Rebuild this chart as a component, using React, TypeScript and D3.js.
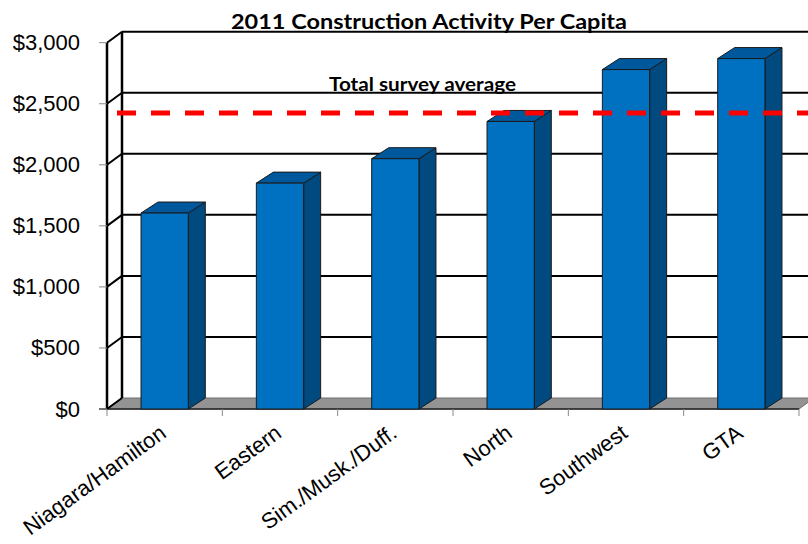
import React from "react";
import * as d3 from "d3";

const categories = ["Niagara/Hamilton", "Eastern", "Sim./Musk./Duff.", "North", "Southwest", "GTA"];
const values = [1605, 1850, 2050, 2355, 2780, 2870];
const yTicks = [0, 500, 1000, 1500, 2000, 2500, 3000];
const surveyAverage = 2425;
const title = "2011 Construction Activity Per Capita";
const averageLabel = "Total survey average";

const W = 808;
const H = 544;
const left = 107;
const right = 799;
const bottom = 409;
const top = 42.7;
const wallDx = 15;
const wallDy = -11;
const barDx = 17;
const barDy = -11;

export default function App() {
  const y = d3.scaleLinear().domain([0, 3000]).range([bottom, top]);
  const xStep = d3.scaleBand<string>().domain(categories).range([left, right]);
  const xBar = d3
    .scaleBand<string>()
    .domain(categories)
    .range([left, right])
    .paddingInner(0.59)
    .paddingOuter(0.295);
  const bw = xBar.bandwidth();
  const step = xStep.step();
  const fmt = (v: number) => "$" + d3.format(",")(v);
  const pts = (a: [number, number][]) => a.map((p) => p.join(",")).join(" ");

  return (
    <svg
      width={W}
      height={H}
      style={{ position: "absolute", left: 0, top: 0, background: "#fff" }}
    >
      {/* back wall gridlines */}
      {yTicks
        .filter((v) => v > 0)
        .map((v) => (
          <line
            key={"g" + v}
            x1={left + wallDx}
            x2={W + 20}
            y1={y(v) + wallDy}
            y2={y(v) + wallDy}
            stroke="#000"
            strokeWidth={2}
          />
        ))}
      {/* floor */}
      <polygon
        points={pts([
          [left, bottom],
          [right, bottom],
          [right + wallDx, bottom + wallDy],
          [left + wallDx, bottom + wallDy],
        ])}
        fill="#939393"
        stroke="#6e6e6e"
        strokeWidth={1}
      />
      <line x1={left - 8} x2={right} y1={bottom} y2={bottom} stroke="#222" strokeWidth={1.5} />
      {/* side wall */}
      {yTicks.map((v) => (
        <line
          key={"s" + v}
          x1={left}
          y1={y(v)}
          x2={left + wallDx}
          y2={y(v) + wallDy}
          stroke="#000"
          strokeWidth={2}
        />
      ))}
      <line x1={left} x2={left} y1={y(3000)} y2={bottom} stroke="#000" strokeWidth={2.5} />
      <line
        x1={left + wallDx}
        x2={left + wallDx}
        y1={y(3000) + wallDy}
        y2={bottom + wallDy}
        stroke="#000"
        strokeWidth={2.5}
      />
      {/* y ticks */}
      {yTicks.map((v) => (
        <g key={"t" + v}>
          <line x1={left - 8} x2={left} y1={y(v)} y2={y(v)} stroke="#888" strokeWidth={1} />
          <text
            x={80}
            y={y(v)}
            textAnchor="end"
            dominantBaseline="central"
            fontFamily="Liberation Sans, Arial, sans-serif"
            fontSize={22}
            fill="#000"
          >
            {fmt(v)}
          </text>
        </g>
      ))}
      {/* x ticks */}
      {d3.range(categories.length + 1).map((i) => (
        <line
          key={"xt" + i}
          x1={left + i * step}
          x2={left + i * step}
          y1={bottom}
          y2={bottom + 7}
          stroke="#888"
          strokeWidth={1}
        />
      ))}
      {/* bars */}
      {categories.map((c, i) => {
        const x0 = xBar(c) as number;
        const x1 = x0 + bw;
        const yt = y(values[i]);
        return (
          <g key={c} stroke="#1a1a1a" strokeWidth={1} strokeLinejoin="round">
            <polygon
              points={pts([
                [x1, yt],
                [x1 + barDx, yt + barDy],
                [x1 + barDx, bottom + barDy],
                [x1, bottom],
              ])}
              fill="#004A80"
            />
            <polygon
              points={pts([
                [x0, yt],
                [x0 + barDx, yt + barDy],
                [x1 + barDx, yt + barDy],
                [x1, yt],
              ])}
              fill="#00589C"
            />
            <rect x={x0} y={yt} width={bw} height={bottom - yt} fill="#0070C0" />
          </g>
        );
      })}
      {/* average line */}
      <line
        x1={117}
        x2={W + 10}
        y1={y(surveyAverage)}
        y2={y(surveyAverage)}
        stroke="#FF0000"
        strokeWidth={5}
        strokeDasharray="19 15"
      />
      <text
        x={329}
        y={90.5}
        fontFamily="Lato, Open Sans, sans-serif"
        fontWeight="bold"
        fontSize={19}
        textLength={187}
        lengthAdjust="spacingAndGlyphs"
        fill="#000"
      >
        {averageLabel}
      </text>
      {/* title */}
      <text
        x={231}
        y={28.5}
        fontFamily="Lato, Open Sans, sans-serif"
        fontWeight="bold"
        fontSize={20}
        textLength={396}
        lengthAdjust="spacingAndGlyphs"
        fill="#000"
      >
        {title}
      </text>
      {/* x labels */}
      {categories.map((c) => {
        const cx = (xStep(c) as number) + step / 2 + 3;
        const cy = 436;
        return (
          <text
            key={"l" + c}
            x={cx}
            y={cy}
            textAnchor="end"
            transform={`rotate(-36, ${cx}, ${cy})`}
            fontFamily="Liberation Sans, Arial, sans-serif"
            fontSize={22}
            fill="#000"
          >
            {c}
          </text>
        );
      })}
    </svg>
  );
}
